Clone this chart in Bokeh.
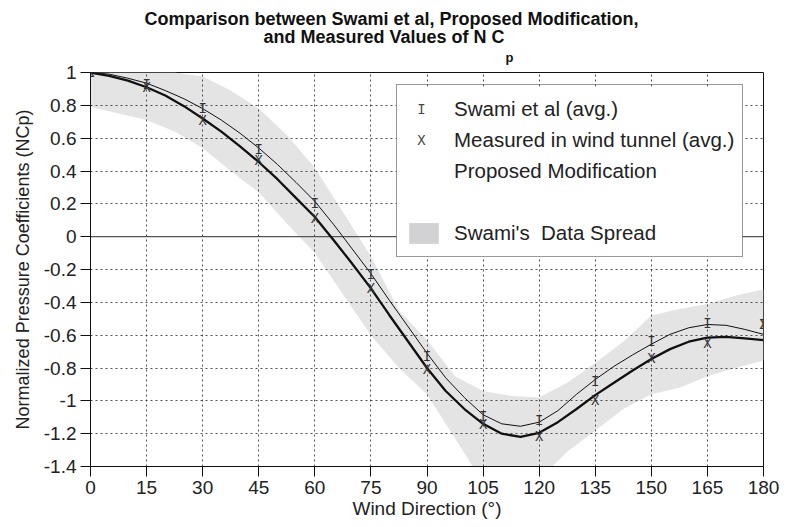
from bokeh.plotting import figure
from bokeh.models import (FixedTicker, Legend, LegendItem, Span, Range1d, Title)
from bokeh.core.properties import value
from bokeh.embed import file_html
from bokeh.resources import INLINE

# ---- data ----
directions = [0, 15, 30, 45, 60, 75, 90, 105, 120, 135, 150, 165, 180]
swami_avg = [1.0, 0.925, 0.775, 0.53, 0.20, -0.235, -0.73, -1.10, -1.125, -0.885, -0.64, -0.53, -0.54]
measured_avg = [1.0, 0.905, 0.705, 0.46, 0.105, -0.32, -0.815, -1.15, -1.22, -1.0, -0.745, -0.655, -0.54]

curve_deg = [0, 5, 10, 15, 20, 25, 30, 35, 40, 45, 50, 55, 60, 65, 70, 75, 80, 85, 90,
             95, 100, 105, 110, 115, 120, 125, 130, 135, 140, 145, 150, 155, 160, 165,
             170, 175, 180]
swami_curve = [1.0, 0.99, 0.965, 0.935, 0.89, 0.84, 0.78, 0.71, 0.63, 0.54, 0.44, 0.33,
               0.215, 0.075, -0.075, -0.225, -0.39, -0.55, -0.71, -0.86, -0.98, -1.085,
               -1.14, -1.155, -1.13, -1.06, -0.96, -0.87, -0.79, -0.72, -0.655, -0.595,
               -0.555, -0.535, -0.54, -0.565, -0.595]
proposed_curve = [1.0, 0.98, 0.95, 0.91, 0.86, 0.795, 0.72, 0.64, 0.55, 0.455, 0.35, 0.235,
                  0.12, -0.02, -0.165, -0.315, -0.48, -0.64, -0.80, -0.94, -1.05, -1.14,
                  -1.2, -1.22, -1.195, -1.13, -1.05, -0.965, -0.89, -0.815, -0.745, -0.685,
                  -0.64, -0.615, -0.61, -0.62, -0.63]

spread_deg = [0, 7.5, 15, 22.5, 30, 37.5, 45, 52.5, 60, 67.5, 75, 82.5, 90, 97.5,
              105, 112.5, 120, 127.5, 135, 142.5, 150, 157.5, 165, 172.5, 180]
spread_upper = [1.0, 1.0, 1.0, 1.0, 0.975, 0.89, 0.78, 0.62, 0.42, 0.15, -0.12,
                -0.45, -0.63, -0.85, -0.94, -0.97, -0.98, -0.89, -0.77, -0.64,
                -0.48, -0.44, -0.41, -0.36, -0.32]
spread_lower = [0.79, 0.75, 0.71, 0.64, 0.54, 0.40, 0.27, 0.08, -0.10, -0.35, -0.60,
                -0.80, -0.96, -1.23, -1.50, -1.56, -1.48, -1.31, -1.18, -1.05,
                -0.96, -0.92, -0.85, -0.80, -0.755]

x_ticks = [0, 15, 30, 45, 60, 75, 90, 105, 120, 135, 150, 165, 180]
y_ticks = [1, 0.8, 0.6, 0.4, 0.2, 0, -0.2, -0.4, -0.6, -0.8, -1, -1.2, -1.4]
y_tick_labels = ["1", "0.8", "0.6", "0.4", "0.2", "0", "-0.2", "-0.4", "-0.6", "-0.8", "-1", "-1.2", "-1.4"]
zero_level = 0

legend_labels = ["Swami et al (avg.)", "Measured in wind tunnel (avg.)",
                 "Proposed Modification", " ", "Swami's  Data Spread"]
legend_symbols = ["I", "X"]

title_line1 = "Comparison between Swami et al, Proposed Modification,"
title_line2 = "and Measured Values of N C"
title_sub = "p"

FONT = "Liberation Sans"
MONO = "Liberation Mono"

# ---- layout constants (pixels) ----
W, H = 791, 527
B_LEFT, B_RIGHT, B_TOP, B_BOTTOM = 90, 28, 72, 61
FRAME_W = W - B_LEFT - B_RIGHT
FRAME_H = H - B_TOP - B_BOTTOM
X0, X1 = 0, 180
Y0, Y1 = -1.4, 1
LEG_X, LEG_Y = 306, 209          # legend bottom-left, screen px from frame bottom-left
LEG_PAD, LEG_ROW = 8, 31
LEG_GLYPH_W, LEG_STANDOFF, LEG_TEXT_W = 37, 12, 281
LEG_W = 2 * LEG_PAD + LEG_GLYPH_W + LEG_STANDOFF + LEG_TEXT_W
LEG_H = 2 * LEG_PAD + len(legend_labels) * LEG_ROW


def px_to_x(px):
    return X0 + px / FRAME_W * (X1 - X0)


def py_to_y(py):
    return Y0 + py / FRAME_H * (Y1 - Y0)


p = figure(width=W, height=H, title=None,
           x_range=Range1d(X0, X1), y_range=Range1d(Y0, Y1),
           output_backend="svg", toolbar_location=None,
           min_border_left=B_LEFT, min_border_right=B_RIGHT,
           min_border_top=B_TOP, min_border_bottom=B_BOTTOM)

# spread band (below the grid)
r_band = p.varea(x=spread_deg, y1=spread_lower, y2=spread_upper,
                 fill_color="#e4e4e4", level="image")
# zero-area twin of the band, only used for the legend swatch colour
r_spread_leg = p.varea(x=spread_deg, y1=spread_lower, y2=spread_lower,
                       fill_color="#d2d2d4")

# zero line (under the glyphs, so the legend box hides it)
p.add_layout(Span(location=zero_level, dimension="width",
                  line_color="#555555", line_width=1.3, level="underlay"))

# curves
p.line(curve_deg, swami_curve, line_color="#111111", line_width=1.0)
p.line(curve_deg, proposed_curve, line_color="#111111", line_width=2.3)

# markers as text glyphs
r_swami = p.text(x=directions, y=swami_avg, text=value(legend_symbols[0]),
                 text_font=value(MONO), text_font_size="14px",
                 text_align="center", text_baseline="middle", text_color="#333333")
r_meas = p.text(x=directions, y=measured_avg, text=value(legend_symbols[1]),
                text_font=value(MONO), text_font_size="14px",
                text_align="center", text_baseline="middle", text_color="#333333")

# white legend background (legend itself is transparent so its swatches show)
p.quad(left=[px_to_x(LEG_X)], right=[px_to_x(LEG_X + LEG_W)],
       bottom=[py_to_y(LEG_Y)], top=[py_to_y(LEG_Y + LEG_H)],
       fill_color="white", line_color=None)

# legend swatches for the two marker series (text glyphs draw no swatch)
sym_px = LEG_X + LEG_PAD + 17
sym_py = [LEG_Y + LEG_H - LEG_PAD - LEG_ROW / 2 - LEG_ROW * i for i in range(2)]
p.text(x=[px_to_x(sym_px)] * 2, y=[py_to_y(v) for v in sym_py], text=legend_symbols,
       text_font=value(MONO), text_font_size="14px",
       text_align="center", text_baseline="middle", text_color="#444444")

# dummy renderers for legend entries without a visible swatch
r_prop_leg = p.line(x=[], y=[], line_alpha=0)
r_blank_leg = p.line(x=[], y=[], line_alpha=0)

leg_renderers = [r_swami, r_meas, r_prop_leg, r_blank_leg, r_spread_leg]
legend = Legend(items=[LegendItem(label=l, renderers=[r])
                       for l, r in zip(legend_labels, leg_renderers)],
                location=(LEG_X, LEG_Y))
legend.padding = LEG_PAD
legend.spacing = 0
legend.label_height = LEG_ROW
legend.glyph_height = 26
legend.glyph_width = LEG_GLYPH_W
legend.label_standoff = LEG_STANDOFF
legend.label_text_font = FONT
legend.label_text_font_size = "20.5px"
legend.label_text_color = "#222222"
legend.border_line_color = "#333333"
legend.border_line_width = 1
legend.background_fill_alpha = 0.0
p.add_layout(legend)

# axes
p.xaxis.ticker = FixedTicker(ticks=x_ticks)
p.yaxis.ticker = FixedTicker(ticks=y_ticks)
p.yaxis.major_label_overrides = {t: l for t, l in zip(y_ticks, y_tick_labels)}
for ax in (p.xaxis[0], p.yaxis[0]):
    ax.major_label_text_font = FONT
    ax.major_label_text_font_size = "19px"
    ax.major_label_text_color = "#222222"
    ax.axis_label_text_font = FONT
    ax.axis_label_text_font_style = "normal"
    ax.axis_label_text_color = "#222222"
    ax.axis_line_color = "#111111"
    ax.major_tick_line_color = "#111111"
    ax.major_tick_in = 0
    ax.major_tick_out = 10
    ax.minor_tick_line_color = None
p.xaxis.axis_label = "Wind Direction (°)"
p.yaxis.axis_label = "Normalized Pressure Coefficients (NCp)"
p.xaxis.axis_label_text_font_size = "19px"
p.yaxis.axis_label_text_font_size = "18px"
p.xaxis.major_label_standoff = 4
p.xaxis.axis_label_standoff = 1
p.yaxis.major_label_standoff = 4
p.yaxis.axis_label_standoff = 8

# grid
for g in (p.xgrid[0], p.ygrid[0]):
    g.grid_line_color = "#333333"
    g.grid_line_dash = "2 3"
    g.grid_line_width = 1
    g.grid_line_alpha = 0.85
p.xgrid.ticker = FixedTicker(ticks=x_ticks)
p.ygrid.ticker = FixedTicker(ticks=y_ticks)

p.outline_line_color = "#111111"
p.outline_line_width = 1
p.background_fill_color = "white"
p.border_fill_color = "white"

# title: stacked panels above the frame (innermost first)
spacer = Title(text=" ", text_font_size="10px", standoff=-6)
t_sub = Title(text=title_sub, text_font=FONT, text_font_size="13px", text_font_style="bold",
              align="left", offset=415, standoff=2, vertical_align="bottom", text_color="#111111")
t2 = Title(text=title_line2, text_font=FONT, text_font_size="18px", text_font_style="bold",
           align="left", offset=173, standoff=0, vertical_align="bottom", text_color="#111111")
t1 = Title(text=title_line1, text_font=FONT, text_font_size="18px", text_font_style="bold",
           align="left", offset=54, standoff=-9, vertical_align="bottom", text_color="#111111")
for t in (spacer, t_sub, t2, t1):
    p.add_layout(t, "above")

open("out.html", "w").write(file_html(p, INLINE))
